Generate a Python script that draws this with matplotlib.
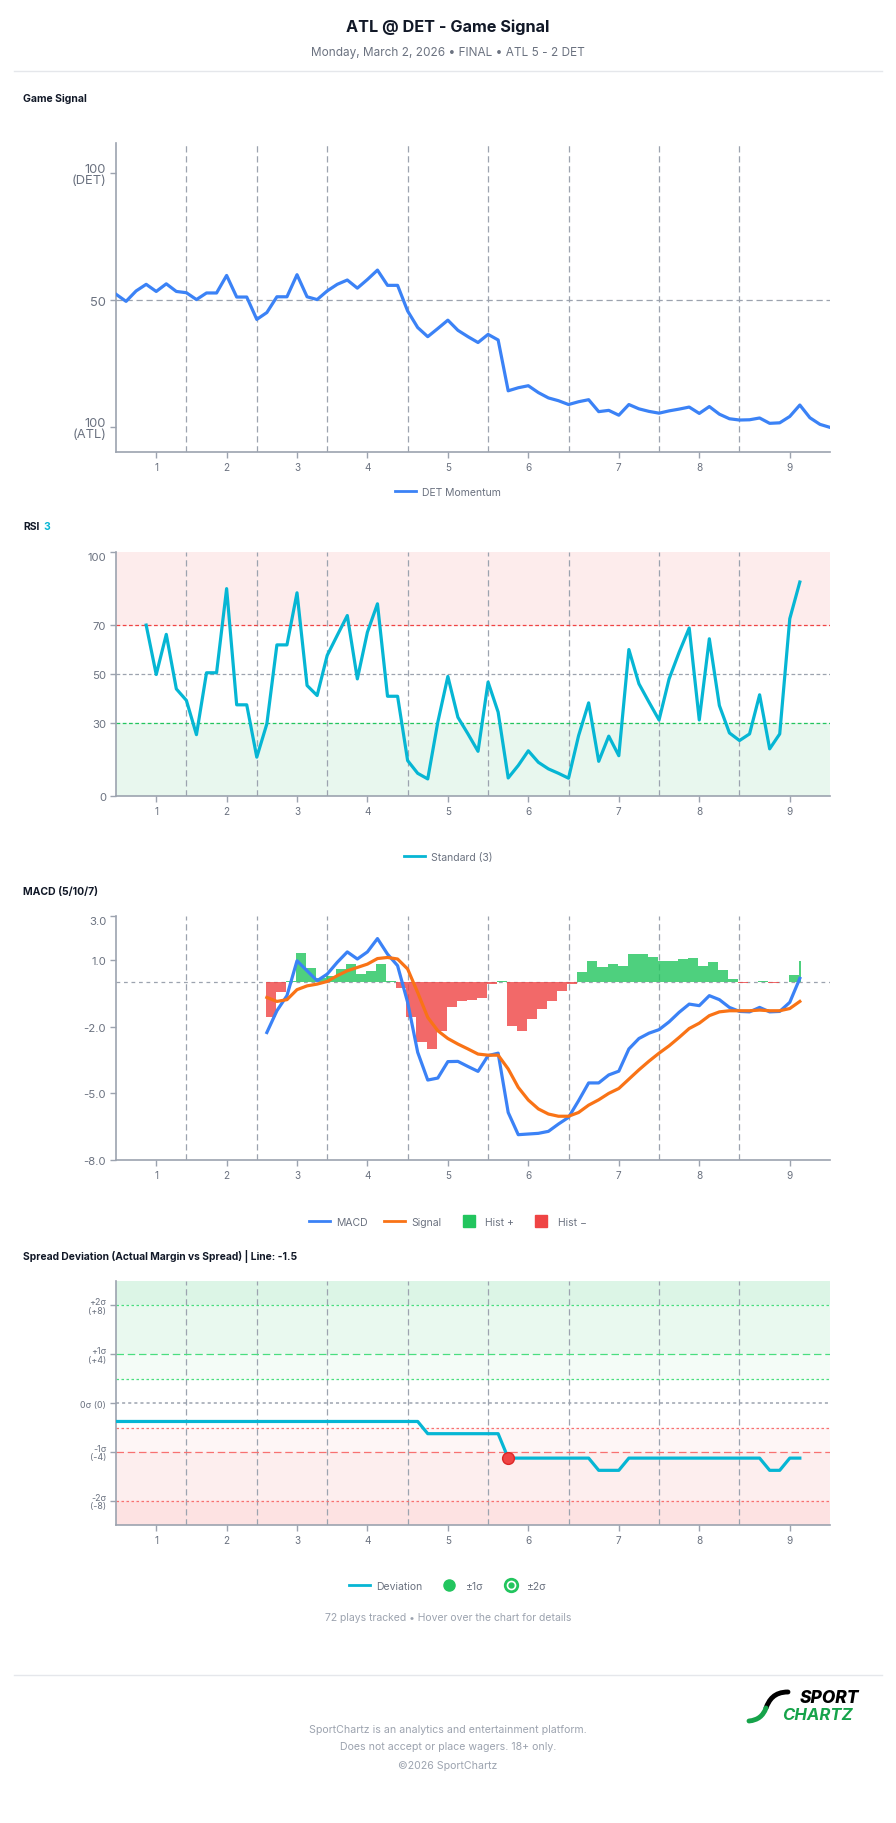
import matplotlib
matplotlib.use('Agg')
import matplotlib.pyplot as plt
from matplotlib.lines import Line2D
from matplotlib.path import Path
from matplotlib.patches import PathPatch

plt.rcParams['font.family'] = ['Inter', 'DejaVu Sans']

W, H = 896, 1824

# x axis = play index, innings marked at these plays
inning_ticks = [4, 11, 18, 25, 33, 41, 50, 58, 67]
inning_labels = ['1', '2', '3', '4', '5', '6', '7', '8', '9']
inning_breaks = [7, 14, 21, 29, 37, 45, 54, 62]

# game signal (0 = ATL 100, 100 = DET 100)
momentum = [52.4, 49.6, 53.7, 56.3, 53.5, 56.5, 53.5, 53.0, 50.3, 52.9,
            52.9, 59.8, 51.3, 51.3, 42.5, 45.2, 51.4, 51.4, 60.1, 51.4,
            50.3, 53.7, 56.3, 58.0, 54.8, 58.2, 61.9, 55.9, 55.9, 45.8,
            39.3, 35.7, 38.9, 42.2, 38.2, 35.7, 33.4, 36.6, 34.4, 14.4,
            15.6, 16.4, 13.7, 11.6, 10.5, 9.0, 10.1, 10.9, 6.2, 6.7,
            4.8, 9.0, 7.3, 6.3, 5.6, 6.5, 7.2, 8.0, 5.5, 8.2,
            5.2, 3.4, 2.9, 3.0, 3.7, 1.6, 1.8, 4.3, 8.8, 3.8,
            1.2, 0.0]

rsi_start = 3
rsi = [70.0, 49.8, 66.2, 43.9, 39.2, 25.2, 50.5, 50.5, 84.9, 37.4,
       37.4, 16.0, 29.6, 61.9, 61.9, 83.2, 45.3, 41.2, 57.6, 65.8,
       73.9, 48.0, 67.1, 78.7, 40.9, 40.9, 14.6, 9.4, 7.1, 30.3,
       49.0, 32.3, 25.5, 18.4, 46.7, 34.4, 7.5, 12.6, 18.6, 13.9,
       11.2, 9.4, 7.4, 24.8, 38.2, 14.3, 24.6, 16.6, 60.0, 46.0,
       38.5, 31.2, 48.0, 58.9, 68.8, 31.2, 64.4, 37.1, 25.9, 22.8,
       25.5, 41.5, 19.4, 25.5, 72.6, 87.6]

macd_start = 15
macd = [-2.26, -1.28, -0.60, 0.97, 0.52, 0.07, 0.37, 0.90, 1.37, 1.05,
        1.37, 1.97, 1.27, 0.75, -0.90, -3.15, -4.40, -4.31, -3.57, -3.56,
        -3.79, -4.01, -3.30, -3.19, -5.86, -6.86, -6.83, -6.80, -6.71, -6.38,
        -6.08, -5.33, -4.53, -4.53, -4.17, -4.00, -3.00, -2.53, -2.29, -2.13,
        -1.78, -1.35, -0.98, -1.05, -0.60, -0.78, -1.13, -1.31, -1.33, -1.13,
        -1.33, -1.31, -0.90, 0.18]
signal = [-0.68, -0.86, -0.78, -0.33, -0.16, -0.08, 0.04, 0.30, 0.52, 0.67,
          0.82, 1.07, 1.12, 1.05, 0.60, -0.46, -1.58, -2.18, -2.53, -2.78,
          -3.00, -3.23, -3.28, -3.28, -3.90, -4.73, -5.30, -5.70, -5.93, -6.03,
          -6.03, -5.86, -5.53, -5.29, -5.00, -4.78, -4.36, -3.94, -3.55, -3.19,
          -2.86, -2.48, -2.08, -1.84, -1.50, -1.33, -1.28, -1.28, -1.28, -1.25,
          -1.28, -1.28, -1.18, -0.86]
hist = [-1.58, -0.45, 0.04, 1.30, 0.63, 0.20, 0.30, 0.60, 0.82, 0.37,
        0.52, 0.82, 0.08, -0.26, -1.58, -2.68, -3.00, -2.18, -1.09, -0.83,
        -0.78, -0.72, -0.08, 0.05, -1.96, -2.18, -1.63, -1.20, -0.84, -0.41,
        -0.07, 0.47, 0.95, 0.70, 0.82, 0.73, 1.27, 1.27, 1.15, 0.97,
        0.98, 1.04, 1.09, 0.75, 0.90, 0.54, 0.15, -0.01, 0.00, 0.08,
        -0.05, 0.00, 0.33, 0.98]

deviation = [-1.5, -1.5, -1.5, -1.5, -1.5, -1.5, -1.5, -1.5, -1.5, -1.5,
             -1.5, -1.5, -1.5, -1.5, -1.5, -1.5, -1.5, -1.5, -1.5, -1.5,
             -1.5, -1.5, -1.5, -1.5, -1.5, -1.5, -1.5, -1.5, -1.5, -1.5,
             -1.5, -2.5, -2.5, -2.5, -2.5, -2.5, -2.5, -2.5, -2.5, -4.5,
             -4.5, -4.5, -4.5, -4.5, -4.5, -4.5, -4.5, -4.5, -5.5, -5.5,
             -5.5, -4.5, -4.5, -4.5, -4.5, -4.5, -4.5, -4.5, -4.5, -4.5,
             -4.5, -4.5, -4.5, -4.5, -4.5, -5.5, -5.5, -4.5, -4.5]
alert_play = 39

GRAY = '#9ca3af'
TXT = '#6b7280'
DARK = '#111827'
BLUE = '#3b82f6'
CYAN = '#06b6d4'
ORANGE = '#f97316'
GREEN = '#22c55e'
RED = '#ef4444'

fig = plt.figure(figsize=(W / 100, H / 100), dpi=100)

# overlay in pixel coords for header / footer text
ov = fig.add_axes([0, 0, 1, 1])
ov.set_xlim(0, W)
ov.set_ylim(H, 0)
ov.axis('off')


def box(top, bottom):
    return [116 / W, 1 - bottom / H, 714 / W, (bottom - top) / H]


def style(ax, ylim):
    ax.set_xlim(0, 71)
    ax.set_ylim(*ylim)
    for s in ['top', 'right']:
        ax.spines[s].set_visible(False)
    for s in ['left', 'bottom']:
        ax.spines[s].set_color(GRAY)
        ax.spines[s].set_linewidth(1.2)
    ax.set_xticks(inning_ticks)
    ax.set_xticklabels(inning_labels)
    ax.tick_params(colors=GRAY, labelcolor=TXT, labelsize=7.2, length=4, width=1, pad=3)
    for b in inning_breaks:
        ax.axvline(b, color=GRAY, lw=0.9, ls=(0, (5, 3)), zorder=1)


def legend(handles, labels, ypix, **kw):
    fig.legend(handles, labels, loc='center', bbox_to_anchor=(0.5, 1 - ypix / H),
               frameon=False, fontsize=7.5, labelcolor=TXT, handlelength=2.0,
               handletextpad=0.6, columnspacing=1.6, **kw)


# header
ov.text(W / 2, 27, 'ATL @ DET - Game Signal', ha='center', va='center',
        fontsize=11.7, fontweight='bold', color=DARK)
ov.text(W / 2, 53, 'Monday, March 2, 2026 \u2022 FINAL \u2022 ATL 5 - 2 DET', ha='center',
        va='center', fontsize=8.5, color=TXT)
ov.plot([14, 882], [72, 72], color='#e5e7eb', lw=1)

# ---- Game signal
ov.text(23, 99, 'Game Signal', va='center', fontsize=7.5, fontweight='bold', color=DARK)
ax1 = fig.add_axes(box(144.3, 453.3))
style(ax1, (-9.8, 111.8))
ax1.axhline(50, color=GRAY, lw=0.9, ls=(0, (5, 3)), zorder=1)
ax1.plot(range(len(momentum)), momentum, color=BLUE, lw=2.3, solid_joinstyle='round', zorder=3)
ax1.set_yticks([0, 50, 100])
ax1.set_yticklabels(['100\n(ATL)', '50', '100\n(DET)'], fontsize=9.3, linespacing=0.9)
legend([Line2D([], [], color=BLUE, lw=2)], ['DET Momentum'], 493)

# ---- RSI
ov.text(23, 527, 'RSI', va='center', fontsize=7.5, fontweight='bold', color=DARK)
ov.text(43, 527, '3', va='center', fontsize=7.5, fontweight='bold', color=CYAN)
ax2 = fig.add_axes(box(552.7, 797.3))
style(ax2, (0, 100))
ax2.axhspan(70, 100, color='#fdecec', zorder=0)
ax2.axhspan(0, 30, color='#e8f7ee', zorder=0)
ax2.axhline(70, color=RED, lw=0.9, ls=(0, (3, 2)), zorder=2)
ax2.axhline(50, color=GRAY, lw=0.9, ls=(0, (3, 2)), zorder=2)
ax2.axhline(30, color=GREEN, lw=0.9, ls=(0, (3, 2)), zorder=2)
ax2.plot(range(rsi_start, rsi_start + len(rsi)), rsi, color=CYAN, lw=2.3,
         solid_joinstyle='round', zorder=3)
ax2.set_yticks([0, 30, 50, 70, 100])
ax2.tick_params(axis='y', labelsize=8.2)
ax2.get_yticklabels()[-1].set_va('top')
legend([Line2D([], [], color=CYAN, lw=2)], ['Standard (3)'], 857.6)

# ---- MACD
ov.text(23, 892.5, 'MACD (5/10/7)', va='center', fontsize=7.5, fontweight='bold', color=DARK)
ax3 = fig.add_axes(box(916.7, 1161))
style(ax3, (-8, 3))
ax3.axhline(0, color=GRAY, lw=0.9, ls=(0, (3, 3)), zorder=1)
hx = [macd_start + k - 0.12 for k in range(len(hist))]
hw = [1.0] * (len(hist) - 1) + [0.25]
ax3.bar(hx, hist, width=hw, align='edge', color=[GREEN if v >= 0 else RED for v in hist],
        alpha=0.8, linewidth=0, zorder=2)
xs = range(macd_start, macd_start + len(macd))
ax3.plot(xs, macd, color=BLUE, lw=2.3, solid_joinstyle='round', zorder=4)
ax3.plot(xs, signal, color=ORANGE, lw=2.3, solid_joinstyle='round', zorder=4)
ax3.set_yticks([-8, -5, -2, 1, 3])
ax3.set_yticklabels(['-8.0', '-5.0', '-2.0', '1.0', '3.0'])
ax3.tick_params(axis='y', labelsize=8.2)
ax3.get_yticklabels()[-1].set_va('top')
sq = dict(marker='s', linestyle='none', markersize=9)
legend([Line2D([], [], color=BLUE, lw=2), Line2D([], [], color=ORANGE, lw=2),
        Line2D([], [], color=GREEN, **sq), Line2D([], [], color=RED, **sq)],
       ['MACD', 'Signal', 'Hist +', 'Hist \u2212'], 1223, ncol=4)

# ---- Spread deviation
ov.text(23, 1256.7, 'Spread Deviation (Actual Margin vs Spread) | Line: -1.5', va='center',
        fontsize=7.4, fontweight='bold', color=DARK)
ax4 = fig.add_axes(box(1282, 1526.3))
style(ax4, (-10, 10))
ax4.axhspan(8, 10, color='#dcf5e6', zorder=0)
ax4.axhspan(4, 8, color='#e9f9ef', zorder=0)
ax4.axhspan(2, 4, color='#f4fcf7', zorder=0)
ax4.axhspan(-4, -2, color='#fef6f6', zorder=0)
ax4.axhspan(-8, -4, color='#fdeeee', zorder=0)
ax4.axhspan(-10, -8, color='#fde2e2', zorder=0)
for y, c, ls in [(8, '#4ade80', (0, (2, 2))), (4, '#4ade80', (0, (6, 3))),
                 (2, '#4ade80', (0, (2, 2))), (0, GRAY, (0, (2, 2))),
                 (-2, '#f87171', (0, (2, 2))), (-4, '#f87171', (0, (6, 3))),
                 (-8, '#f87171', (0, (2, 2)))]:
    ax4.axhline(y, color=c, lw=1.1 if y == 0 else 0.9, ls=ls, zorder=1)
ax4.plot(range(len(deviation)), deviation, color=CYAN, lw=2.3, solid_joinstyle='round', zorder=3)
ax4.plot([alert_play], [deviation[alert_play]], 'o', color=RED, markeredgecolor='#dc2626',
         markersize=8.5, zorder=4)
ax4.set_yticks([-8, -4, 0, 4, 8])
ax4.set_yticklabels(['-2\u03c3\n(-8)', '-1\u03c3\n(-4)', '0\u03c3 (0)', '+1\u03c3\n(+4)',
                     '+2\u03c3\n(+8)'], fontsize=6.4, linespacing=0.9)
ring = (Line2D([], [], marker='o', linestyle='none', markersize=9, markerfacecolor='white',
               markeredgecolor=GREEN, markeredgewidth=2),
        Line2D([], [], marker='o', linestyle='none', markersize=3.5, color=GREEN))
legend([Line2D([], [], color=CYAN, lw=2),
        Line2D([], [], marker='o', linestyle='none', markersize=8, color=GREEN), ring],
       ['Deviation', '\u00b11\u03c3', '\u00b12\u03c3'], 1587, ncol=3)

ov.text(W / 2, 1618, '72 plays tracked \u2022 Hover over the chart for details', ha='center',
        va='center', fontsize=7.5, color=GRAY)

# footer
ov.plot([14, 882], [1675.6, 1675.6], color='#e5e7eb', lw=1)
swoosh_k = Path([(788, 1693), (774, 1693), (769, 1701), (766, 1709)],
                [Path.MOVETO, Path.CURVE4, Path.CURVE4, Path.CURVE4])
swoosh_g = Path([(766, 1709), (763, 1717), (758, 1721), (749, 1722)],
                [Path.MOVETO, Path.CURVE4, Path.CURVE4, Path.CURVE4])
ov.add_patch(PathPatch(swoosh_k, fill=False, edgecolor='black', lw=3.5, capstyle='round'))
ov.add_patch(PathPatch(swoosh_g, fill=False, edgecolor='#16a34a', lw=3.5, capstyle='round'))
ov.text(859, 1699, 'SPORT', ha='right', va='center', fontsize=12.5, fontweight='heavy',
        fontstyle='italic', color='black')
ov.text(853, 1716, 'CHARTZ', ha='right', va='center', fontsize=12, fontweight='bold',
        fontstyle='italic', color='#16a34a')

ov.text(W / 2, 1730, 'SportChartz is an analytics and entertainment platform.', ha='center',
        va='center', fontsize=7.6, color=GRAY)
ov.text(W / 2, 1747, 'Does not accept or place wagers. 18+ only.', ha='center', va='center',
        fontsize=7.6, color=GRAY)
ov.text(W / 2, 1766, '\u00a92026 SportChartz', ha='center', va='center', fontsize=7.6, color=GRAY)

fig.savefig('out.png', dpi=100)
